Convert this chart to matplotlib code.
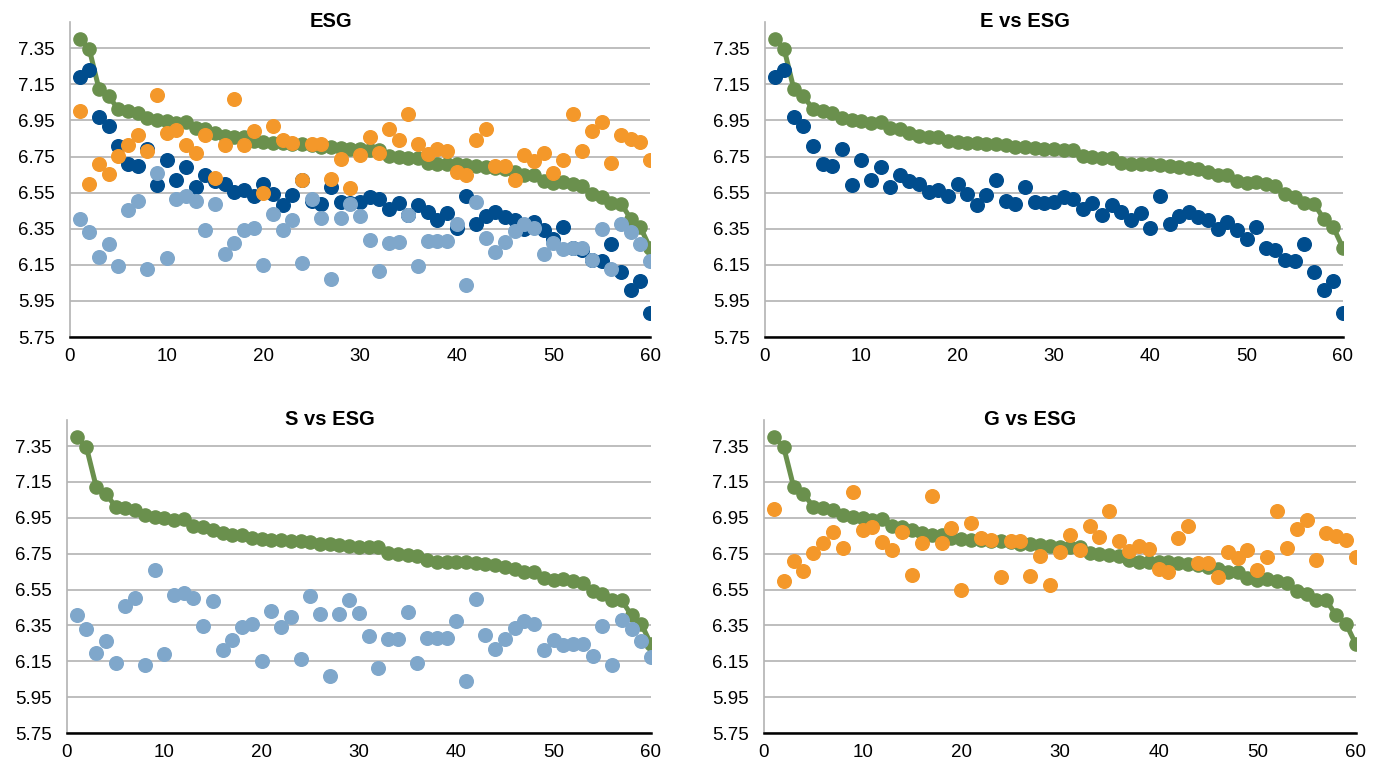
import numpy as np
import matplotlib
matplotlib.use('Agg')
import matplotlib.pyplot as plt

plt.rcParams['font.family'] = ['Liberation Sans', 'DejaVu Sans']

firms = list(range(1, 61))

esg = [7.402, 7.344, 7.124, 7.085, 7.011, 7.002, 6.993, 6.965, 6.952, 6.946,
	6.937, 6.943, 6.906, 6.900, 6.881, 6.863, 6.856, 6.856, 6.837, 6.830,
	6.826, 6.826, 6.822, 6.822, 6.813, 6.804, 6.804, 6.798, 6.794, 6.789,
	6.785, 6.785, 6.752, 6.748, 6.743, 6.739, 6.715, 6.706, 6.706, 6.706,
	6.702, 6.696, 6.693, 6.687, 6.678, 6.665, 6.650, 6.646, 6.613, 6.604,
	6.609, 6.596, 6.587, 6.544, 6.526, 6.494, 6.489, 6.406, 6.359, 6.244]

e_score = [7.193, 7.230, 6.970, 6.919, 6.810, 6.711, 6.698, 6.793, 6.591, 6.733,
	6.622, 6.693, 6.581, 6.650, 6.615, 6.600, 6.554, 6.563, 6.531, 6.600,
	6.544, 6.480, 6.539, 6.622, 6.504, 6.489, 6.581, 6.498, 6.493, 6.498,
	6.526, 6.513, 6.457, 6.493, 6.428, 6.483, 6.443, 6.400, 6.437, 6.356,
	6.531, 6.378, 6.419, 6.443, 6.415, 6.396, 6.350, 6.387, 6.344, 6.294,
	6.359, 6.243, 6.233, 6.178, 6.170, 6.263, 6.109, 6.011, 6.059, 5.881]

s_score = [6.406, 6.330, 6.196, 6.263, 6.142, 6.456, 6.504, 6.127, 6.657, 6.188,
	6.517, 6.530, 6.502, 6.344, 6.486, 6.211, 6.270, 6.341, 6.356, 6.149,
	6.430, 6.341, 6.396, 6.160, 6.514, 6.411, 6.069, 6.411, 6.489, 6.420,
	6.289, 6.114, 6.272, 6.276, 6.424, 6.142, 6.281, 6.281, 6.281, 6.374,
	6.038, 6.499, 6.298, 6.220, 6.276, 6.337, 6.374, 6.356, 6.211, 6.270,
	6.239, 6.244, 6.244, 6.179, 6.346, 6.127, 6.378, 6.331, 6.263, 6.173]

g_score = [7.001, 6.597, 6.707, 6.653, 6.753, 6.811, 6.870, 6.783, 7.093, 6.880,
	6.898, 6.815, 6.772, 6.870, 6.633, 6.811, 7.069, 6.811, 6.893, 6.549,
	6.921, 6.839, 6.824, 6.620, 6.820, 6.820, 6.623, 6.735, 6.573, 6.759,
	6.856, 6.768, 6.904, 6.843, 6.986, 6.819, 6.763, 6.793, 6.778, 6.662,
	6.647, 6.839, 6.904, 6.698, 6.698, 6.620, 6.759, 6.725, 6.768, 6.660,
	6.731, 6.986, 6.783, 6.889, 6.939, 6.716, 6.867, 6.846, 6.828, 6.731]

y_ticks = [5.75, 5.95, 6.15, 6.35, 6.55, 6.75, 6.95, 7.15, 7.35]
x_ticks = [0, 10, 20, 30, 40, 50, 60]

green = '#6A904D'
dark_blue = '#004D8E'
light_blue = '#7FA7CB'
orange = '#F4982A'


def style_axes(ax, title):
	ax.set_xlim(0, 60)
	ax.set_ylim(5.75, 7.495)
	ax.set_yticks(y_ticks)
	ax.set_yticklabels(['%.2f' % v for v in y_ticks])
	ax.set_xticks(x_ticks)
	ax.grid(axis='y', color='#B3B3B3', linewidth=1.2)
	ax.set_axisbelow(True)
	for side in ['top', 'right']:
		ax.spines[side].set_visible(False)
	ax.spines['left'].set_color('#B3B3B3')
	ax.spines['left'].set_linewidth(1.2)
	ax.spines['bottom'].set_color('black')
	ax.spines['bottom'].set_linewidth(1.8)
	ax.spines['bottom'].set_zorder(5)
	ax.tick_params(axis='y', length=0, labelsize=13.5, pad=11)
	ax.tick_params(axis='x', length=0, labelsize=13.5, pad=8)
	# title sits over the whole chart area (labels included), so a bit left of the axes centre
	ax.text(0.45, 1.003, title, transform=ax.transAxes, ha='center', va='center',
		fontsize=14.5, fontweight='bold')


def draw_esg(ax):
	ax.plot(firms, esg, color=green, linewidth=3.6, marker='o', markersize=9.5, zorder=2)


def main():
	fig = plt.figure(figsize=(13.83, 7.67), dpi=100)

	ax1 = fig.add_axes([0.0506, 0.5606, 0.4194, 0.4107])
	ax2 = fig.add_axes([0.5531, 0.5606, 0.4179, 0.4107])
	ax3 = fig.add_axes([0.0484, 0.0443, 0.4223, 0.4081])
	ax4 = fig.add_axes([0.5524, 0.0443, 0.4280, 0.4081])

	ms = 9.8

	# ESG with all three pillars
	draw_esg(ax1)
	ax1.plot(firms, e_score, 'o', color=dark_blue, markersize=ms, zorder=3)
	ax1.plot(firms, s_score, 'o', color=light_blue, markersize=ms, zorder=4)
	ax1.plot(firms, g_score, 'o', color=orange, markersize=ms, zorder=5)
	style_axes(ax1, 'ESG')

	draw_esg(ax2)
	ax2.plot(firms, e_score, 'o', color=dark_blue, markersize=ms, zorder=3)
	style_axes(ax2, 'E vs ESG')

	draw_esg(ax3)
	ax3.plot(firms, s_score, 'o', color=light_blue, markersize=ms, zorder=3)
	style_axes(ax3, 'S vs ESG')

	draw_esg(ax4)
	ax4.plot(firms, g_score, 'o', color=orange, markersize=ms, zorder=3)
	style_axes(ax4, 'G vs ESG')

	fig.savefig('out.png', dpi=100)
	plt.close()


if __name__ == '__main__':
	main()
